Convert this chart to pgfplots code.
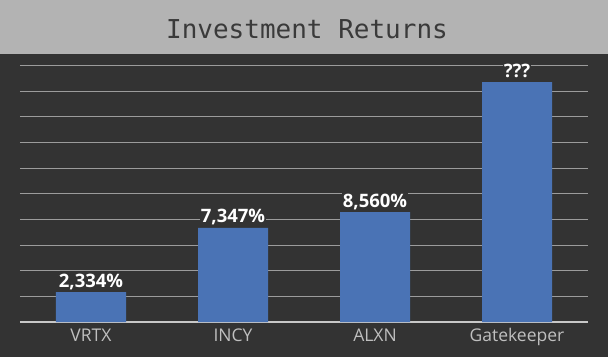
\documentclass[border=0pt]{standalone}
\usepackage{pgfplots}
\pgfplotsset{compat=1.18}
\usepackage{fontspec}
\setmainfont{Open Sans}
\newfontfamily\titlefont{DejaVu Sans Mono}
\definecolor{bg}{HTML}{333333}
\definecolor{band}{HTML}{B3B3B3}
\definecolor{titlec}{HTML}{3A3A3A}
\definecolor{barc}{HTML}{4A73B5}
\definecolor{gridc}{HTML}{9C9C9C}
\definecolor{basec}{HTML}{C8C8C8}
\definecolor{tickc}{HTML}{BFBFBF}
\begin{document}
\begin{tikzpicture}[x=1pt,y=1pt]
\useasboundingbox (0,0) rectangle (608,357);
\fill[bg] (0,0) rectangle (608,357);
\fill[band] (0,303) rectangle (608,357);
\node[anchor=base, inner sep=0, text=titlec, font=\titlefont\fontsize{26}{30}\selectfont] at (307,318.7) {Investment Returns};
\begin{axis}[
  at={(20pt,35pt)}, anchor=south west,
  scale only axis, width=568pt, height=256.5pt,
  xmin=-0.5, xmax=3.5, ymin=0, ymax=20000,
  enlargelimits=false, clip=false,
  scaled y ticks=false,
  axis line style={draw=none},
  major tick length=0pt,
  ytick={2000,4000,...,20000}, yticklabels={},
  ymajorgrids, grid style={gridc, line width=1.1pt},
  xtick={0,1,2,3},
  xticklabels={VRTX,INCY,ALXN,Gatekeeper},
  xticklabel style={anchor=base, yshift=-19.5pt, text=tickc, font=\fontsize{17.5}{20}\selectfont},
  ybar, bar width=70pt,
  point meta=explicit symbolic,
  nodes near coords,
  every node near coord/.append style={anchor=base, yshift=5pt, text=white, font=\bfseries\fontsize{18.5}{22}\selectfont, fill=bg, inner sep=0.5pt},
]
\draw[basec, line width=2pt] (axis cs:-0.5,0) -- (axis cs:3.5,0);
\addplot[fill=barc, draw=none] coordinates {
  (0,2334) [2,334\%]
  (1,7347) [7,347\%]
  (2,8560) [8,560\%]
  (3,18700) [???]
};
\end{axis}
\end{tikzpicture}
\end{document}
